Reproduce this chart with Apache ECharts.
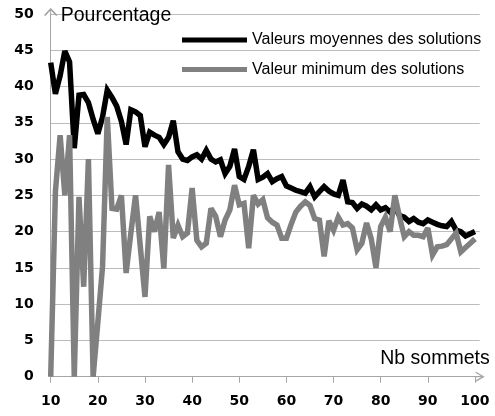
<!DOCTYPE html>
<html>
<head>
<meta charset="utf-8">
<script src="https://cdn.jsdelivr.net/npm/echarts@6/dist/echarts.min.js"></script>
<style>
  html, body { margin: 0; padding: 0; background: #fff; }
  #chart { width: 495px; height: 416px; }
</style>
</head>
<body>
<div id="chart"></div>
<script>
// Nombre de sommets du graphe
const sommets = [10, 11, 12, 13, 14, 15, 16, 17, 18, 19, 20, 21, 22, 23, 24, 25, 26, 27, 28, 29,
  30, 31, 32, 33, 34, 35, 36, 37, 38, 39, 40, 41, 42, 43, 44, 45, 46, 47, 48, 49,
  50, 51, 52, 53, 54, 55, 56, 57, 58, 59, 60, 61, 62, 63, 64, 65, 66, 67, 68, 69,
  70, 71, 72, 73, 74, 75, 76, 77, 78, 79, 80, 81, 82, 83, 84, 85, 86, 87, 88, 89,
  90, 91, 92, 93, 94, 95, 96, 97, 98, 99, 100];

// Valeurs moyennes des solutions (%)
const moyennes = [43.3, 39.0, 41.5, 44.9, 43.4, 31.5, 38.8, 38.9, 37.8, 35.5,
  33.5, 35.8, 39.5, 38.5, 37.3, 35.2, 32.0, 36.8, 36.5, 36.0,
  31.7, 33.7, 33.3, 33.0, 32.0, 33.0, 35.3, 31.0, 30.0, 29.8,
  30.3, 30.6, 30.0, 31.2, 30.0, 29.6, 29.9, 28.0, 29.0, 31.4,
  27.6, 27.2, 29.0, 31.3, 27.2, 27.5, 28.0, 26.9, 27.3, 27.6,
  26.3, 26.0, 25.7, 25.5, 25.3, 26.2, 24.8, 25.5, 26.2, 25.6,
  25.2, 25.0, 27.1, 24.1, 24.0, 23.2, 23.8, 23.5, 23.0, 23.7,
  23.0, 23.3, 22.7, 23.4, 22.2, 22.0, 21.4, 21.8, 21.3, 21.1,
  21.6, 21.3, 21.0, 20.8, 20.7, 21.4, 20.2, 20.0, 19.4, 19.7,
  20.0];

// Valeur minimum des solutions (%)
const minimums = [0, 25.5, 33.3, 25.0, 33.3, 0, 24.8, 12.4, 30.0, 0,
  7.5, 15.2, 35.8, 23.2, 23.1, 25.0, 14.3, 19.8, 25.0, 18.0,
  11.0, 22.1, 20.0, 22.7, 14.9, 29.2, 19.1, 20.9, 19.3, 19.8,
  26.0, 18.8, 17.9, 18.4, 23.2, 22.1, 19.3, 21.6, 23.0, 26.4,
  23.7, 23.9, 17.7, 25.0, 23.8, 24.4, 21.9, 21.3, 20.9, 19.1,
  19.1, 21.0, 22.7, 23.5, 24.1, 23.6, 21.8, 21.6, 16.6, 21.5,
  20.2, 22.0, 20.9, 21.1, 20.5, 17.5, 18.4, 21.2, 19.0, 15.0,
  20.7, 22.0, 20.0, 25.0, 22.0, 19.3, 20.0, 19.5, 19.5, 19.3,
  20.5, 16.8, 17.9, 18.0, 18.2, 19.0, 19.8, 17.2, 17.8, 18.4,
  19.0];

// Graduations de l'axe horizontal
const xTicks = [10, 20, 30, 40, 50, 60, 70, 80, 90, 100];

const serieMoyenne = 'Valeurs moyennes des solutions';
const serieMinimum = 'Valeur minimum des solutions';

// Flèche ouverte (chevron + tige) pour l'extrémité de l'axe horizontal
const chevron = 'path://M5,0 L10,8.6 L8.9,9.4 L5,2.6 L1.1,9.4 L0,8.6 Z M4.4,1.5 L5.6,1.5 L5.6,10 L4.4,10 Z';
const legendBar = 'path://M0,0 L65,0 L65,5 L0,5 Z';

// Zone de tracé
const gridLeft = 50.7;
const gridTop = 14;

const axisGray = '#a6a6a6';
const labelFont = { color: '#000', fontFamily: 'DejaVu Sans', fontWeight: 'bold', fontSize: 14 };

const chart = echarts.init(document.getElementById('chart'), null, { renderer: 'canvas' });

chart.setOption({
  animation: false,
  backgroundColor: '#fff',
  grid: { left: gridLeft, right: 15.3, top: gridTop, bottom: 39.3, containLabel: false },
  legend: {
    orient: 'vertical',
    left: 182,
    top: 32,
    padding: 0,
    itemWidth: 65,
    itemHeight: 14,
    itemGap: 13.5,
    textStyle: { color: '#000', fontFamily: 'Liberation Sans', fontSize: 16 },
    data: [
      { name: serieMoyenne, icon: legendBar },
      { name: serieMinimum, icon: legendBar }
    ]
  },
  // Flèche ouverte au sommet de l'axe vertical
  graphic: [
    {
      type: 'polyline',
      silent: true,
      z: 100,
      shape: {
        points: [[gridLeft - 6, gridTop + 1.5], [gridLeft, gridTop - 5], [gridLeft + 6, gridTop + 1.5]]
      },
      style: { stroke: '#9a9a9a', lineWidth: 1.5, fill: 'none' }
    },
    {
      type: 'line',
      silent: true,
      z: 100,
      shape: { x1: gridLeft, y1: gridTop + 0.5, x2: gridLeft, y2: gridTop - 5 },
      style: { stroke: axisGray, lineWidth: 1 }
    }
  ],
  xAxis: {
    type: 'value',
    min: 10,
    max: 101,
    interval: 10,
    name: 'Nb sommets',
    nameLocation: 'end',
    nameGap: 10,
    nameTextStyle: {
      color: '#000', fontFamily: 'Liberation Sans', fontSize: 19.5,
      align: 'right', verticalAlign: 'bottom', padding: [0, 0, 8, 0]
    },
    axisLine: {
      show: true,
      lineStyle: { color: axisGray, width: 1 },
      symbol: ['none', chevron],
      symbolSize: [12, 10],
      symbolOffset: [0, 0]
    },
    axisTick: { show: true, length: 6, lineStyle: { color: axisGray }, customValues: xTicks },
    axisLabel: Object.assign({ margin: 18, customValues: xTicks }, labelFont),
    splitLine: { show: false }
  },
  yAxis: {
    type: 'value',
    min: 0,
    max: 50,
    interval: 5,
    name: 'Pourcentage',
    nameLocation: 'end',
    nameGap: -2,
    nameTextStyle: {
      color: '#000', fontFamily: 'Liberation Sans', fontSize: 19.5,
      align: 'left', verticalAlign: 'middle', padding: [0, 0, 0, 10]
    },
    axisLine: { show: true, lineStyle: { color: axisGray, width: 1 } },
    axisTick: { show: false },
    axisLabel: Object.assign({ margin: 17 }, labelFont),
    splitLine: { show: true, lineStyle: { color: '#bcbcbc', width: 1 } }
  },
  series: [
    {
      name: serieMoyenne,
      type: 'line',
      data: sommets.map((n, i) => [n, moyennes[i]]),
      symbol: 'none',
      showSymbol: false,
      color: '#000',
      lineStyle: { color: '#000', width: 5.5, join: 'miter', miterLimit: 3 },
      z: 3
    },
    {
      name: serieMinimum,
      type: 'line',
      data: sommets.map((n, i) => [n, minimums[i]]),
      symbol: 'none',
      showSymbol: false,
      color: '#808080',
      lineStyle: { color: '#808080', width: 5.5, join: 'miter', miterLimit: 3 },
      z: 4
    }
  ]
});
</script>
</body>
</html>
